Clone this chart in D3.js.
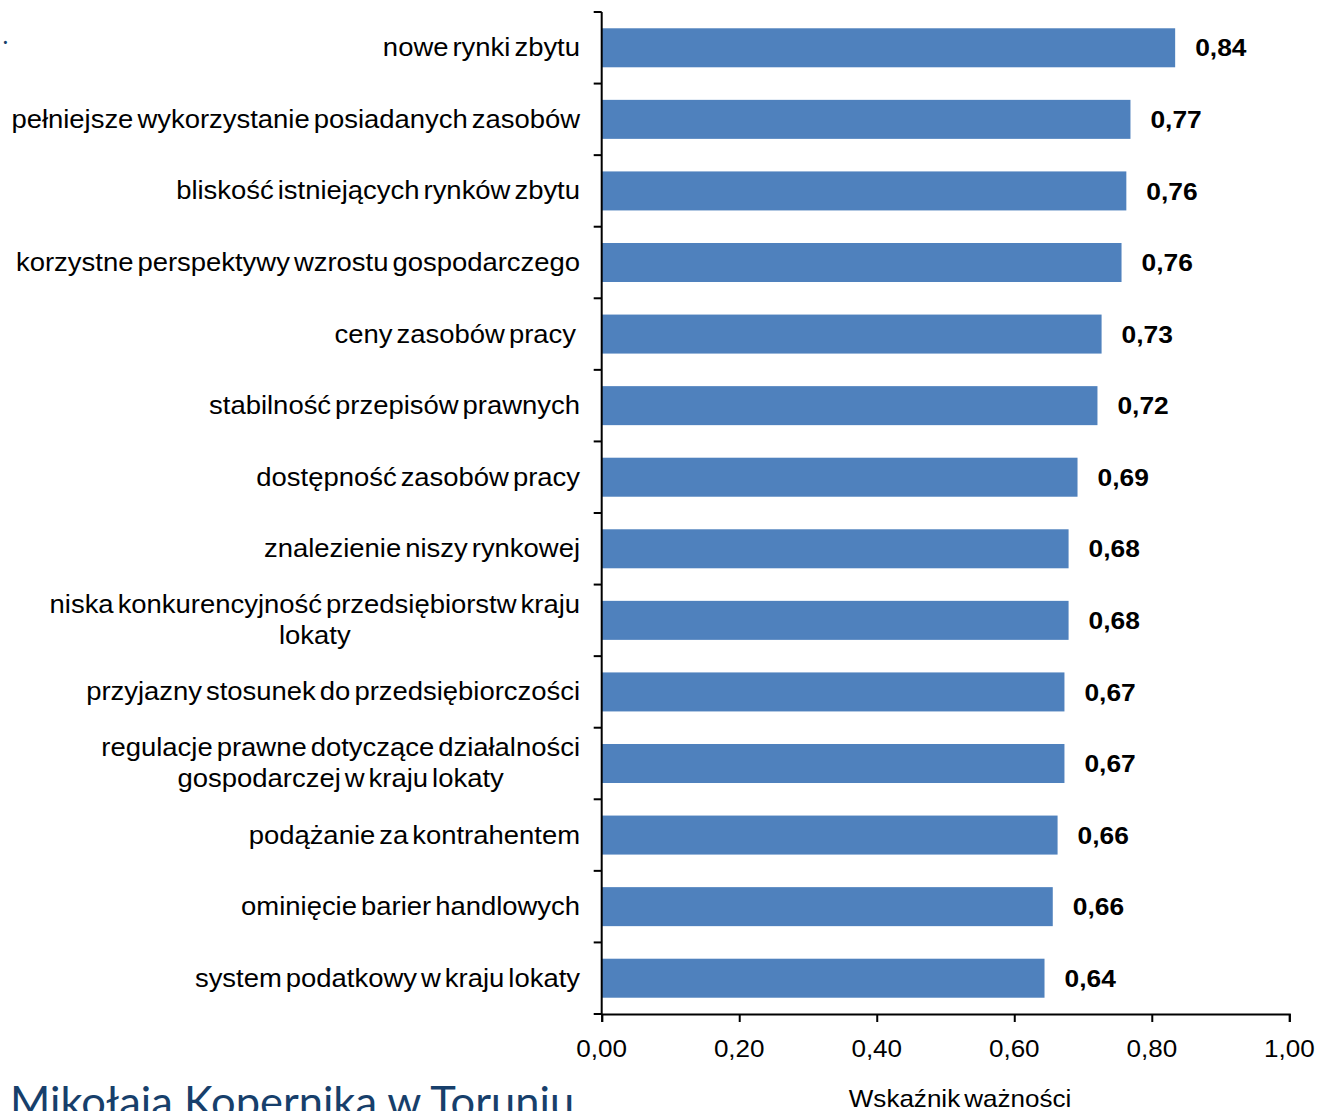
<!DOCTYPE html>
<html>
<head>
<meta charset="utf-8">
<script src="https://cdn.jsdelivr.net/npm/d3@7"></script>
<style>
  html, body { margin: 0; padding: 0; background: #ffffff; }
  svg { display: block; }
  text { font-family: "Liberation Sans", Arial, sans-serif; fill: #000; }
</style>
</head>
<body>
<svg id="chart" width="1318" height="1111"></svg>
<script>
// Categories (each entry is a list of label lines)
const categories = [
  ["nowe rynki zbytu"],
  ["pełniejsze wykorzystanie posiadanych zasobów"],
  ["bliskość istniejących rynków zbytu"],
  ["korzystne perspektywy wzrostu gospodarczego"],
  ["ceny zasobów pracy "],
  ["stabilność przepisów prawnych"],
  ["dostępność zasobów pracy"],
  ["znalezienie niszy rynkowej"],
  ["niska konkurencyjność przedsiębiorstw kraju", "lokaty"],
  ["przyjazny stosunek do przedsiębiorczości"],
  ["regulacje prawne dotyczące działalności", "gospodarczej w kraju lokaty"],
  ["podążanie za kontrahentem"],
  ["ominięcie barier handlowych"],
  ["system podatkowy w kraju lokaty"]
];
// Bar lengths
const values = [0.834, 0.769, 0.763, 0.756, 0.727, 0.721, 0.692, 0.679, 0.679, 0.673, 0.673, 0.663, 0.656, 0.644];
// Printed data labels
const valueLabels = ["0,84", "0,77", "0,76", "0,76", "0,73", "0,72", "0,69", "0,68", "0,68", "0,67", "0,67", "0,66", "0,66", "0,64"];
const xTicks = [0, 0.2, 0.4, 0.6, 0.8, 1.0];
const axisTitle = "Wskaźnik ważności";
const footerText = "Mikołaja Kopernika w Toruniu";

const svg = d3.select("#chart");
const plotLeft = 601.7, plotRight = 1289.3, plotTop = 12, plotBottom = 1014;
const pad = 0.455;
const SX = 1.085; // horizontal stretch of the source rendering

const x = d3.scaleLinear().domain([0, 1]).range([plotLeft, plotRight]);
const idx = categories.map((d, i) => i);
const y = d3.scaleBand().domain(idx).range([plotTop, plotBottom])
  .paddingInner(pad).paddingOuter(pad / 2);

// helper: text stretched horizontally around its anchor point
function sText(parent, px, py, str, size, anchor, opts = {}) {
  const t = parent.append("text")
    .attr("transform", `translate(${px},${py}) scale(${opts.sx || SX},1)`)
    .attr("font-size", size)
    .attr("text-anchor", anchor)
    .style("white-space", "pre")
    .text(str);
  if (opts.bold) t.attr("font-weight", "bold");
  if (opts.ws) t.attr("word-spacing", opts.ws);
  return t;
}

// bars
svg.append("g").selectAll("rect").data(idx).join("rect")
  .attr("x", x(0))
  .attr("y", i => y(i))
  .attr("width", i => x(values[i]) - x(0))
  .attr("height", y.bandwidth())
  .attr("fill", "#4f81bd");

// value labels
const valG = svg.append("g");
idx.forEach(i => {
  sText(valG, x(values[i]) + 20, y(i) + y.bandwidth() / 2 + 8.7, valueLabels[i], 24.3, "start", { bold: true });
});

// x axis
const xAxis = d3.axisBottom(x)
  .tickValues(xTicks)
  .tickSize(8)
  .tickFormat("");
const gx = svg.append("g").attr("transform", `translate(0,${plotBottom})`).call(xAxis);
gx.select(".domain").attr("stroke", "#000").attr("stroke-width", 2);
gx.selectAll(".tick line").attr("stroke", "#000").attr("stroke-width", 2);
const fmt = d => d3.format(".2f")(d).replace(".", ",");
const tickG = svg.append("g");
xTicks.forEach(d => sText(tickG, x(d), 1057, fmt(d), 24, "middle"));

// y axis (line + boundary ticks)
const gy = svg.append("g");
gy.append("line")
  .attr("x1", plotLeft).attr("x2", plotLeft)
  .attr("y1", plotTop).attr("y2", plotBottom)
  .attr("stroke", "#000").attr("stroke-width", 2);
const gap = (y.step() - y.bandwidth()) / 2;
const boundaries = idx.map(i => y(i) - gap)
  .concat([y(idx.length - 1) + y.bandwidth() + gap]);
gy.selectAll("line.tk").data(boundaries).join("line")
  .attr("class", "tk")
  .attr("x1", plotLeft - 8).attr("x2", plotLeft)
  .attr("y1", d => d).attr("y2", d => d)
  .attr("stroke", "#000").attr("stroke-width", 2);

// category labels
const labelRight = 580;
const catSize = 25.3, catWs = -3.3;
const catG = svg.append("g");
idx.forEach(i => {
  const lines = categories[i];
  const cy = y(i) + y.bandwidth() / 2;
  const lh = 31;
  if (lines.length === 1) {
    sText(catG, labelRight, cy + 8.5, lines[0], catSize, "end", { ws: catWs });
  } else {
    const g = catG.append("g").attr("transform", `translate(${labelRight},0) scale(${SX},1)`);
    const t = g.append("text")
      .attr("font-size", catSize)
      .attr("word-spacing", catWs)
      .attr("text-anchor", "middle");
    const spans = lines.map((ln, k) => t.append("tspan")
      .attr("y", cy + 8.5 + (k - (lines.length - 1) / 2) * lh)
      .text(ln));
    let w = 0;
    spans.forEach(s => { w = Math.max(w, s.node().getComputedTextLength()); });
    spans.forEach(s => s.attr("x", -w / 2));
  }
});

// axis title
sText(svg, 960, 1107, axisTitle, 24, "middle", { ws: -3 });

// stray text fragments from the source slide
svg.append("text")
  .attr("transform", "translate(10,1117) scale(1.01,1)")
  .attr("font-size", 43)
  .style("font-family", "Lato, 'Open Sans', sans-serif")
  .style("fill", "#173f6b")
  .text(footerText);
svg.append("text")
  .attr("x", 3)
  .attr("y", 44)
  .attr("font-size", 20)
  .attr("font-weight", "bold")
  .style("font-family", "Lato, sans-serif")
  .style("fill", "#173f6b")
  .text(".");
</script>
</body>
</html>
